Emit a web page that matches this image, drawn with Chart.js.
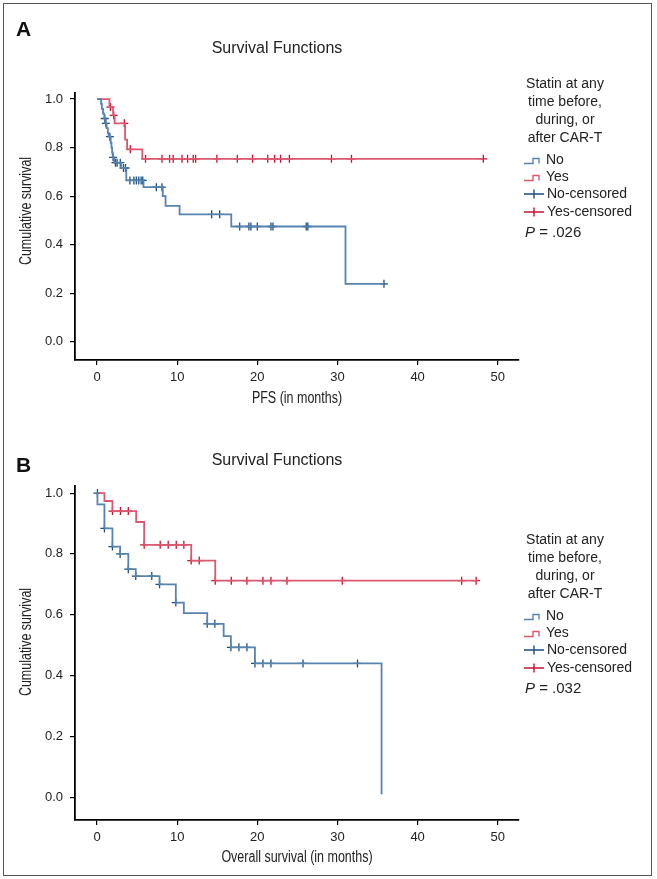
<!DOCTYPE html>
<html>
<head>
<meta charset="utf-8">
<script src="https://cdn.jsdelivr.net/npm/chart.js@4.4.1/dist/chart.umd.min.js"></script>
<style>
  body { margin: 0; background: #fff; }
  #page { position: relative; width: 657px; height: 879px; overflow: hidden; font-family: "Liberation Sans", Arial, sans-serif; color: #222; }
  .frame { position: absolute; left: 3px; top: 3px; width: 649px; height: 873px; border: 1.5px solid #555; box-sizing: border-box; }
  canvas { position: absolute; left: 0; }
  .letter { position: absolute; left: 16px; font-weight: bold; font-size: 21px; line-height: 22px; color: #111; }
  .title { position: absolute; left: 177px; width: 200px; text-align: center; font-size: 16px; line-height: 18px; }
  .axt { position: absolute; width: 240px; margin-left: -120px; margin-top: -9px; text-align: center; font-size: 16px; line-height: 18px; white-space: nowrap; }
  .xt { transform: scaleX(0.78); }
  .yt { transform: rotate(-90deg) scaleX(0.78); }
  .head { position: absolute; left: 500px; width: 130px; text-align: center; font-size: 14px; line-height: 18px; }
  .item { position: absolute; left: 524px; font-size: 14px; line-height: 18px; white-space: nowrap; }
  .item svg { vertical-align: -1px; margin-right: 3px; }
  .pval { position: absolute; left: 525px; font-size: 15px; line-height: 18px; }
</style>
</head>
<body>
<div id="page">
  <div class="frame"></div>
  <canvas id="chartA" width="657" height="420" style="top:0"></canvas>
  <canvas id="chartB" width="657" height="440" style="top:430px"></canvas>
  <div class="letter" style="top:18px">A</div>
  <div class="title" style="top:39px">Survival Functions</div>
  <div class="axt xt" style="left:297px; top:398px">PFS (in months)</div>
  <div class="axt yt" style="left:26px; top:211px">Cumulative survival</div>
  <div class="letter" style="top:454px">B</div>
  <div class="title" style="top:451px">Survival Functions</div>
  <div class="axt xt" style="left:297px; top:857px">Overall survival (in months)</div>
  <div class="axt yt" style="left:26px; top:642px">Cumulative survival</div>
  <div id="legA"></div>
  <div id="legB"></div>
</div>
<script>
// axis ticks
const xTicks = [0, 10, 20, 30, 40, 50];
const yTicks = [0, 0.2, 0.4, 0.6, 0.8, 1.0];

// A: PFS, statin = No  (time where survival drops, survival after the drop)
const pfsNoTime = [0, 0.5, 0.6, 0.75, 0.9, 1.05, 1.2, 1.35, 1.45, 1.7, 1.8, 1.88, 1.95, 2.15, 3.0, 3.65, 5.8, 8.2, 8.55, 10.3, 16.75, 31.0, 35.8];
const pfsNoSurv = [1.0, 0.98, 0.96, 0.94, 0.92, 0.90, 0.88, 0.86, 0.845, 0.82, 0.80, 0.78, 0.76, 0.738, 0.716, 0.665, 0.637, 0.60, 0.56, 0.525, 0.475, 0.239, 0.239];
const pfsNoCensTime = [0.96, 1.1, 1.6, 2.0, 2.3, 2.5, 2.9, 3.3, 3.55, 4.1, 4.6, 4.9, 5.2, 5.5, 5.7, 7.4, 8.1, 14.3, 15.3, 17.8, 18.95, 19.2, 20.0, 21.7, 21.95, 26.1, 26.3, 35.8];
const pfsNoCensSurv = [0.92, 0.90, 0.845, 0.76, 0.738, 0.738, 0.738, 0.716, 0.716, 0.665, 0.665, 0.665, 0.665, 0.665, 0.665, 0.637, 0.637, 0.525, 0.525, 0.475, 0.475, 0.475, 0.475, 0.475, 0.475, 0.475, 0.475, 0.239];

// A: PFS, statin = Yes
const pfsYesTime = [0, 1.55, 2.0, 2.2, 3.5, 3.75, 5.65, 48.2];
const pfsYesSurv = [1.0, 0.967, 0.933, 0.90, 0.833, 0.793, 0.754, 0.754];
const pfsYesCensTime = [1.67, 2.08, 3.4, 4.15, 6.05, 8.1, 9.05, 9.5, 10.6, 11.3, 12.0, 12.3, 14.95, 17.5, 19.4, 21.3, 22.15, 22.9, 24.0, 29.25, 31.75, 48.2];
const pfsYesCensSurv = [0.967, 0.933, 0.90, 0.793, 0.754, 0.754, 0.754, 0.754, 0.754, 0.754, 0.754, 0.754, 0.754, 0.754, 0.754, 0.754, 0.754, 0.754, 0.754, 0.754, 0.754, 0.754];

// B: overall survival, statin = No
const osNoTime = [0, 0.05, 0.92, 1.92, 2.88, 3.9, 4.83, 7.8, 9.83, 10.83, 13.75, 15.8, 16.7, 19.7, 35.5];
const osNoSurv = [1.0, 0.963, 0.884, 0.824, 0.80, 0.75, 0.727, 0.70, 0.64, 0.605, 0.57, 0.53, 0.493, 0.44, 0.01];
const osNoCensTime = [0.05, 0.92, 1.92, 2.88, 3.9, 4.83, 6.83, 7.8, 9.83, 13.75, 14.7, 16.7, 17.7, 18.7, 19.7, 20.7, 21.7, 25.7, 32.5];
const osNoCensSurv = [1.0, 0.884, 0.824, 0.80, 0.75, 0.727, 0.727, 0.70, 0.64, 0.57, 0.57, 0.493, 0.493, 0.493, 0.44, 0.44, 0.44, 0.44, 0.44];

// B: overall survival, statin = Yes
const osYesTime = [0, 0.92, 1.92, 4.88, 5.88, 11.75, 14.75, 47.5];
const osYesSurv = [1.0, 0.974, 0.941, 0.905, 0.83, 0.778, 0.712, 0.712];
const osYesCensTime = [1.92, 2.92, 3.9, 5.88, 7.88, 8.88, 9.88, 10.83, 11.75, 12.75, 14.75, 16.75, 18.7, 20.7, 21.7, 23.7, 30.6, 45.5, 47.3];
const osYesCensSurv = [0.941, 0.941, 0.941, 0.83, 0.83, 0.83, 0.83, 0.83, 0.778, 0.778, 0.712, 0.712, 0.712, 0.712, 0.712, 0.712, 0.712, 0.712, 0.712];

const legendNames = ["No", "Yes", "No-censored", "Yes-censored"];
const legendHead = ["Statin at any", "time before,", "during, or", "after CAR-T"];

const blueLine = "#5683b0", redLine = "#da5870";
const blueMark = "#1d4e7e", redMark = "#c8102e";
const tickFont = "'Liberation Sans', Arial, sans-serif";

function pts(xs, ys) {
  return xs.map((x, i) => ({ x: x, y: ys[i] }));
}

function stepSet(label, xs, ys, color) {
  return { label, data: pts(xs, ys), stepped: true, borderColor: color, borderWidth: 1.8, pointRadius: 0, fill: false };
}

function censSet(label, xs, ys, color) {
  return { label, data: pts(xs, ys), showLine: false, pointStyle: "cross", pointRadius: 4, pointBorderWidth: 1.3, borderColor: color, backgroundColor: color };
}

function drawPanel(id, padTop, padBottom, sets) {
  new Chart(document.getElementById(id), {
    type: "line",
    data: { datasets: sets },
    options: {
      animation: false,
      responsive: false,
      layout: { padding: { top: padTop, bottom: padBottom, left: 0, right: 138.4 } },
      plugins: { legend: { display: false }, tooltip: { enabled: false } },
      scales: {
        x: {
          type: "linear", min: -2.75, max: 52.6,
          afterFit: s => { s.height = 46.4; },
          afterBuildTicks: s => { s.ticks = xTicks.map(v => ({ value: v })); },
          grid: { drawOnChartArea: false, drawTicks: true, tickLength: 5, color: "#000", lineWidth: 1.2 },
          border: { display: true, color: "#000", width: 1.8 },
          ticks: { font: { family: tickFont, size: 13 }, color: "#222", padding: 5, maxRotation: 0 }
        },
        y: {
          type: "linear", min: -0.075, max: 1.025,
          afterFit: s => { s.width = 75; },
          afterBuildTicks: s => { s.ticks = yTicks.map(v => ({ value: v })); },
          grid: { drawOnChartArea: false, drawTicks: true, tickLength: 5, color: "#000", lineWidth: 1.2 },
          border: { display: true, color: "#000", width: 1.8 },
          ticks: { font: { family: tickFont, size: 13 }, color: "#222", padding: 7, callback: v => v.toFixed(1) }
        }
      }
    }
  });
}

drawPanel("chartA", 93, 13.6, [
  stepSet(legendNames[0], pfsNoTime, pfsNoSurv, blueLine),
  stepSet(legendNames[1], pfsYesTime, pfsYesSurv, redLine),
  censSet(legendNames[2], pfsNoCensTime, pfsNoCensSurv, blueMark),
  censSet(legendNames[3], pfsYesCensTime, pfsYesCensSurv, redMark)
]);

drawPanel("chartB", 55.5, 3.6, [
  stepSet(legendNames[0], osNoTime, osNoSurv, blueLine),
  stepSet(legendNames[1], osYesTime, osYesSurv, redLine),
  censSet(legendNames[2], osNoCensTime, osNoCensSurv, blueMark),
  censSet(legendNames[3], osYesCensTime, osYesCensSurv, redMark)
]);

// legend boxes (html)
function stepIcon(c) {
  return `<svg width="19" height="10"><path d="M0 8.5H9V3.5H15V8.5" fill="none" stroke="${c}" stroke-width="1.4"/></svg>`;
}
function crossIcon(c) {
  return `<svg width="20" height="10"><path d="M0 5H20M10 0.5V9.5" fill="none" stroke="${c}" stroke-width="1.4"/></svg>`;
}

function buildLegend(id, top, p) {
  const el = document.getElementById(id);
  let html = "";
  legendHead.forEach((t, i) => {
    html += `<div class="head" style="top:${top + i * 18}px">${t}</div>`;
  });
  const icons = [stepIcon(blueLine), stepIcon(redLine), crossIcon(blueMark), crossIcon(redMark)];
  legendNames.forEach((n, i) => {
    html += `<div class="item" style="top:${top + 76 + i * 17.2}px">${icons[i]}${n}</div>`;
  });
  html += `<div class="pval" style="top:${top + 149}px"><i>P</i> = ${p}</div>`;
  el.innerHTML = html;
}

buildLegend("legA", 74, ".026");
buildLegend("legB", 530, ".032");
</script>
</body>
</html>
